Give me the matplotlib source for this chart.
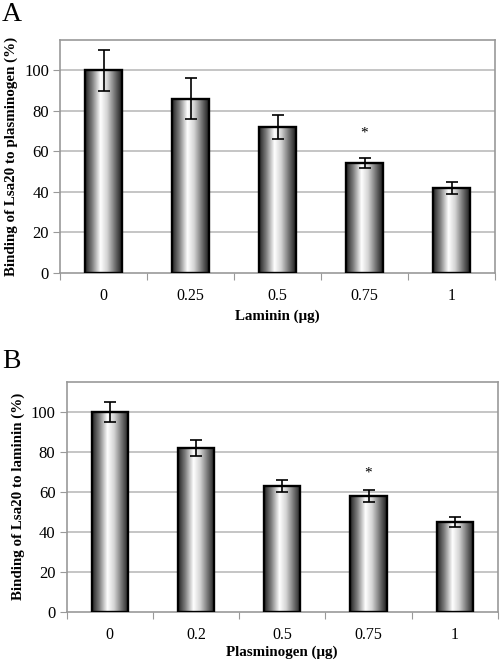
import numpy as np
import matplotlib
matplotlib.use("Agg")
import matplotlib.pyplot as plt
from matplotlib.colors import LinearSegmentedColormap

plt.rcParams['font.family'] = ['Liberation Serif', 'DejaVu Serif']

# panel A: Lsa20 binding to plasminogen vs laminin
laminin_doses = ["0", "0.25", "0.5", "0.75", "1"]
binding_a = [100, 86, 72, 54.5, 42]
err_a = [10, 10, 6, 2.5, 3]
star_a = [None, None, None, 69, None]

# panel B: Lsa20 binding to laminin vs plasminogen
plasminogen_doses = ["0", "0.2", "0.5", "0.75", "1"]
binding_b = [100, 82, 63, 58, 45]
err_b = [5, 4, 3, 3, 2.5]
star_b = [None, None, None, 69.5, None]

shade = LinearSegmentedColormap.from_list(
    "cyl", [(0.0, "#222222"), (0.2, "#808080"), (0.42, "#ffffff"),
            (0.6, "#d4d4d4"), (0.85, "#606060"), (1.0, "#1e1e1e")])
grad = np.linspace(0, 1, 256).reshape(1, -1)


def panel(ax, labels, vals, errs, stars, ylabel, xlabel, xpad):
    x = np.arange(len(vals)) + 0.5
    bars = ax.bar(x, vals, width=0.42, facecolor='none', edgecolor='black',
                  linewidth=1.7, zorder=3)
    for b in bars:
        im = ax.imshow(grad, cmap=shade, aspect='auto', zorder=2,
                       extent=(b.get_x(), b.get_x() + b.get_width(),
                               0, b.get_height()))
        im.set_clip_path(b)
    ax.errorbar(x, vals, yerr=errs, fmt='none', ecolor='black', elinewidth=1.2,
                capsize=4, capthick=1.2, zorder=4)
    for xi, s in zip(x, stars):
        if s is not None:
            ax.text(xi, s, "*", ha='center', va='center', fontsize=11)
    ax.set_xlim(0, len(vals))
    ax.set_ylim(0, 115)
    ax.set_yticks(range(0, 101, 20))
    ax.set_xticks(np.arange(len(vals) + 1))
    ax.set_xticklabels([])
    ax.set_xticks(x, minor=True)
    ax.set_xticklabels(labels, minor=True)
    ax.tick_params(axis='x', which='minor', length=0, pad=11, labelsize=11.5)
    ax.tick_params(axis='x', which='major', length=5, color='#999999')
    ax.tick_params(axis='y', length=5, color='#999999', labelsize=12, pad=3)
    for y in range(20, 101, 20):
        ax.axhline(y, color='#bbbbbb', linewidth=1.2, zorder=1)
    for sp in ax.spines.values():
        sp.set_color('#999999')
        sp.set_linewidth(1.2)
    ax.set_ylabel(ylabel, fontweight='bold', fontsize=10.8, labelpad=4)
    ax.set_xlabel(xlabel, fontweight='bold', fontsize=10.8, labelpad=xpad)


fig = plt.figure(figsize=(5, 6.62), dpi=100)
ax1 = fig.add_axes([0.12, 0.5876, 0.87, 0.352])
ax2 = fig.add_axes([0.133, 0.076, 0.863, 0.3474])

panel(ax1, laminin_doses, binding_a, err_a, star_a,
      "Binding of Lsa20 to plasminogen (%)", "Laminin (\u03bcg)", 4)
panel(ax2, plasminogen_doses, binding_b, err_b, star_b,
      "Binding of Lsa20 to laminin (%)", "Plasminogen (\u03bcg)", 2)

fig.text(0.004, 1 - 21 / 662, "A", fontsize=20, ha='left', va='baseline')
fig.text(0.004, 1 - 368 / 662, "B", fontsize=20, ha='left', va='baseline')

plt.savefig("out.png", dpi=100)
